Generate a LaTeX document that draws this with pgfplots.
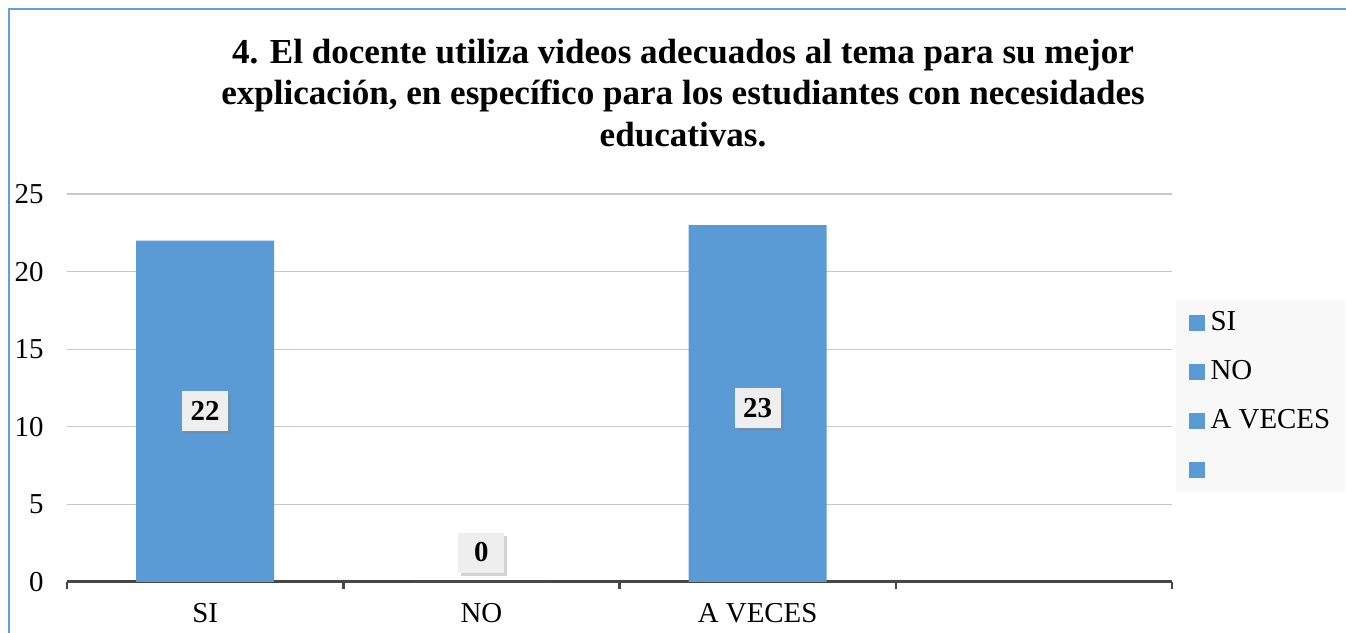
\documentclass[border=0pt]{standalone}
\usepackage{pgfplots}
\pgfplotsset{compat=1.18}
\usepackage{fontspec}
\setmainfont{Liberation Serif}
\usetikzlibrary{shadows}
\definecolor{barblue}{RGB}{91,155,213}
\definecolor{frameblue}{RGB}{100,160,215}
\definecolor{gridgray}{RGB}{200,200,200}
\definecolor{axisgray}{RGB}{70,70,70}
\definecolor{labelbox}{RGB}{238,238,238}
\definecolor{legendbg}{RGB}{248,248,248}
\begin{document}
\begin{tikzpicture}[x=1bp,y=1bp]
\useasboundingbox (0,0) rectangle (1346,633);
\draw[frameblue, line width=2.5bp] (9,0) -- (9,624) -- (1346,624);
\node[font=\bfseries\fontsize{35.2}{42}\selectfont, align=center] at (683,540)
  {4. El docente utiliza videos adecuados al tema para su mejor\\
   explicación, en específico para los estudiantes con necesidades\\
   educativas.};
\begin{axis}[
  at={(67bp,51bp)}, anchor=south west,
  width=1105bp, height=388bp, scale only axis,
  xmin=-0.5, xmax=3.5, ymin=0, ymax=25,
  xtick={0,1,2,3}, xticklabels={SI,NO,A VECES,{}},
  minor xtick={-0.5,0.5,1.5,2.5,3.5},
  major tick length=0pt, minor tick length=7bp, tick align=outside,
  major x tick style={draw=none},
  minor x tick style={axisgray, line width=2.5bp},
  ytick={0,5,10,15,20,25},
  major y tick style={draw=none},
  ymajorgrids, grid style={gridgray, line width=1.2bp},
  axis x line*=bottom, axis y line*=left,
  x axis line style={axisgray, line width=3bp, -},
  y axis line style={draw=none},
  /pgf/number format/assume math mode=true,
  ticklabel style={font=\fontsize{29}{34}\selectfont},
  yticklabel style={anchor=east, xshift=-20bp},
  xticklabel style={anchor=north, yshift=-18bp},
  legend style={at={(1.0036,0.727)}, anchor=north west, fill=legendbg, draw=none,
    font=\fontsize{29}{34}\selectfont, inner xsep=13bp, inner ysep=8bp,
    nodes={inner sep=2bp, text height=20bp, text depth=5bp},
    row sep=20bp, column sep=4bp},
  legend cell align=left,
]
\addplot[ybar, bar shift=0pt, bar width=138bp, fill=barblue, draw=none, forget plot]
  coordinates {(0,22) (1,0) (2,23)};
\addplot[draw=none, mark=none, forget plot,
  point meta=explicit symbolic,
  nodes near coords={\pgfplotspointmeta},
  every node near coord/.append style={anchor=center, fill=labelbox,
    drop shadow={shadow xshift=3bp, shadow yshift=-3bp, opacity=0.35},
    font=\bfseries\fontsize{29}{34}\selectfont,
    minimum width=46bp, minimum height=40bp, inner sep=0pt}]
  coordinates {(0,11) [22] (1,1.9) [0] (2,11.2) [23]};
\addlegendimage{legend image code/.code={\fill[barblue] (0bp,-7.5bp) rectangle (15bp,7.5bp);}}
\addlegendentry{SI}
\addlegendimage{legend image code/.code={\fill[barblue] (0bp,-7.5bp) rectangle (15bp,7.5bp);}}
\addlegendentry{NO}
\addlegendimage{legend image code/.code={\fill[barblue] (0bp,-7.5bp) rectangle (15bp,7.5bp);}}
\addlegendentry{A VECES}
\addlegendimage{legend image code/.code={\fill[barblue] (0bp,-7.5bp) rectangle (15bp,7.5bp);}}
\addlegendentry{}
\end{axis}
\end{tikzpicture}
\end{document}
